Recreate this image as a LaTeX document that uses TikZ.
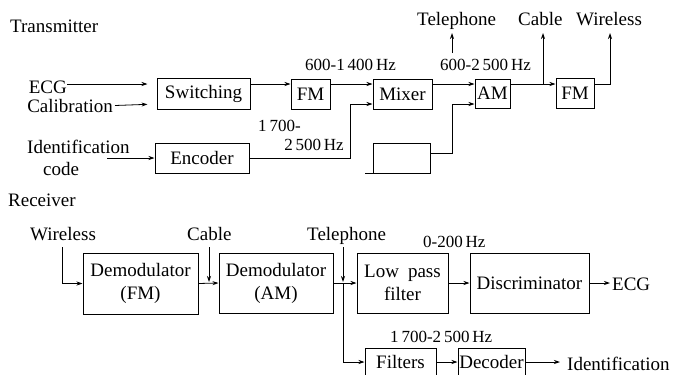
\documentclass[tikz,border=0pt]{standalone}
\usepackage{fontspec}
\setmainfont{Liberation Serif}
\usetikzlibrary{arrows.meta,calc}
\begin{document}
\begin{tikzpicture}[x=1pt,y=-1pt,
  blk/.style={draw, line width=1pt, inner sep=0pt, font=\fontsize{19}{23}\selectfont, align=center},
  lbl/.style={inner sep=0pt, font=\fontsize{19}{22}\selectfont},
  hz/.style={inner sep=0pt, font=\fontsize{17}{19}\selectfont},
  conn/.style={line width=0.8pt},
  arr/.style={conn, -{Stealth[length=6pt,width=4pt]}}]
\useasboundingbox (0,0) rectangle (678,375);

% ---------- Transmitter ----------
\node[lbl, anchor=base west] (tx) at (10,32) {Transmitter};
\node[lbl, anchor=base east] (ecgT) at (67,93) {ECG};
\node[lbl, anchor=base east] (cal) at (113,112) {Calibration};
\node[lbl, anchor=base west] (idT) at (27,153) {Identification};
\node[lbl, anchor=base west] (codeT) at (43,175) {code};

\node[blk, minimum width=93pt, minimum height=31pt] (sw) at (203.5,93.5) {Switching};
\node[blk, minimum width=39pt, minimum height=30pt] (fm1) at (310.5,94) {FM};
\node[blk, minimum width=59pt, minimum height=30pt] (mix) at (402.5,94) {Mixer};
\node[blk, minimum width=35pt, minimum height=29pt] (am) at (492.5,93.5) {AM};
\node[blk, minimum width=38pt, minimum height=30pt] (fm2) at (575,93) {FM};
\node[blk, minimum width=94pt, minimum height=30pt] (enc) at (202,158) {Encoder};
\node[blk, minimum width=57pt, minimum height=30pt] (blank) at (401.5,158) {};

\node[hz, anchor=base west] (f1) at (305,70) {600-1\,400\,Hz};
\node[hz, anchor=base west] (f2) at (440,70) {600-2\,500\,Hz};
\node[hz, anchor=base west] (f3a) at (258,131) {1\,700-};
\node[hz, anchor=base east] (f3b) at (344,150) {2\,500\,Hz};

\node[lbl, anchor=base west] (telT) at (417,25) {Telephone};
\node[lbl, anchor=base west] (cabT) at (518,25) {Cable};
\node[lbl, anchor=base west] (wirT) at (576,25) {Wireless};

\coordinate (r1) at (0,84);
\coordinate (r2) at (0,104);
\coordinate (idIn) at (107,158);
\coordinate (encBend) at (350,104);
\coordinate (blkBend) at (452,104);
\coordinate (telFoot) at (452,53);
\coordinate (telTip) at (452,33);
\coordinate (cabFoot) at (543,84);
\coordinate (cabTip) at (543,33);
\coordinate (wirTip) at (610,33);

\draw[arr, shorten >=9pt] (ecgT.east |- r1) -- (sw.west |- r1);
\draw[arr, shorten >=9pt] ($(cal.east)+(2,0)$ |- r2) -- (sw.west |- r2);
\draw[arr] (idIn) -- (enc.west);
\draw[arr] (sw.east |- r1) -- (fm1.west |- r1);
\draw[arr] (fm1.east |- r1) -- (mix.west |- r1);
\draw[arr] (enc.east) -| (encBend) -- (mix.west |- r2);
\draw[arr] (mix.east |- r1) -- (am.west |- r1);
\draw[arr] ($(blank.east)+(0,-5)$) -| (blkBend) -- (am.west |- r2);
\draw[arr] (am.east |- r1) -- (fm2.west |- r1);
\draw[arr] (telFoot) -- (telTip);
\draw[arr] (cabFoot) -- (cabTip);
\draw[arr] (fm2.east |- r1) -| (wirTip);
\draw[line width=1pt] (blank.south west) -- ++(-8,0);

% ---------- Receiver ----------
\node[lbl, anchor=base west] (rx) at (8,206) {Receiver};
\node[lbl, anchor=base west] (wirR) at (30,240) {Wireless};
\node[lbl, anchor=base west] (cabR) at (187,240) {Cable};
\node[lbl, anchor=base west] (telR) at (307,240) {Telephone};
\node[hz, anchor=base west] (f4) at (423,247) {0-200\,Hz};
\node[hz, anchor=base west] (f5) at (390,342) {1\,700-2\,500\,Hz};
\node[lbl, anchor=base west] (ecgR) at (612,290) {ECG};
\node[lbl, anchor=base west] (idR) at (567,370) {Identification};

\node[blk, minimum width=115pt, minimum height=61pt] (dfm) at (140.5,283.5) {Demodulator\\(FM)};
\node[blk, minimum width=114pt, minimum height=60pt] (dam) at (276,283) {Demodulator\\(AM)};
\node[blk, minimum width=91pt, minimum height=60pt] (lpf) at (402.5,283) {Low\hspace{9pt}pass\\filter};
\node[blk, minimum width=119pt, minimum height=60pt] (disc) at (529.5,283) {Discriminator};
\node[blk, minimum width=71pt, minimum height=28pt] (filt) at (400.5,362) {Filters};
\node[blk, minimum width=67pt, minimum height=28pt] (dec) at (491.5,362) {Decoder};

\coordinate (wirTop) at (62,247);
\coordinate (cabTop) at (209,247);
\coordinate (cabEnd) at (209,282);
\coordinate (telTop) at (343,247);
\coordinate (telEnd) at (343,282);
\coordinate (split) at (343,283);
\coordinate (ecgTip) at (610,283);
\coordinate (idTip) at (560,362);

\draw[arr] (wirTop) |- (dfm.west);
\draw[arr] (cabTop) -- (cabEnd);
\draw[arr] (dfm.east) -- (dam.west);
\draw[arr] (telTop) -- (telEnd);
\draw[arr] (dam.east) -- (lpf.west);
\draw[arr] (split) |- (filt.west);
\draw[arr] (lpf.east) -- (disc.west);
\draw[arr] (disc.east) -- (ecgTip);
\draw[arr] (filt.east) -- (dec.west);
\draw[arr] (dec.east) -- (idTip);
\end{tikzpicture}
\end{document}
